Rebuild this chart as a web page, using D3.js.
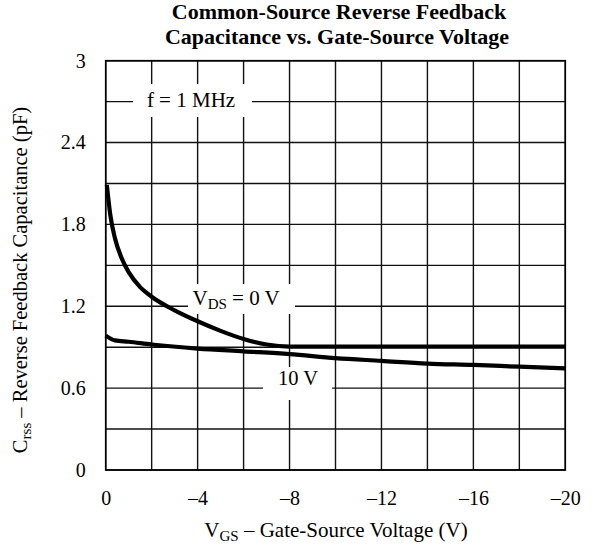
<!DOCTYPE html>
<html>
<head>
<meta charset="utf-8">
<script src="https://cdn.jsdelivr.net/npm/d3@7"></script>
<style>
  body { margin: 0; background: #fff; }
  svg text { font-family: "Liberation Serif", "Times New Roman", serif; fill: #000; }
</style>
</head>
<body>
<script>
// values
var xTicks = [0, -4, -8, -12, -16, -20];
var yTicks = [0, 0.6, 1.2, 1.8, 2.4, 3];
var xGrid = [0, -2, -4, -6, -8, -10, -12, -14, -16, -18, -20];
var yGrid = [0, 0.3, 0.6, 0.9, 1.2, 1.5, 1.8, 2.1, 2.4, 2.7, 3];

// Crss vs VGS, VDS = 0 V
var vgs0 = [-0.05, -0.2, -0.4, -0.7, -1.0, -1.5, -2, -3, -4, -5, -6, -7, -8, -10, -14, -20];
var crss0 = [2.09, 1.87, 1.70, 1.55, 1.45, 1.34, 1.27, 1.17, 1.09, 1.02, 0.96, 0.92, 0.905, 0.905, 0.905, 0.905];
// VDS = 10 V
var vgs10 = [0, -0.4, -1, -2, -4, -6, -8, -10, -12, -14, -16, -18, -20];
var crss10 = [0.985, 0.95, 0.94, 0.92, 0.89, 0.87, 0.85, 0.82, 0.80, 0.78, 0.77, 0.757, 0.745];

var W = 592, H = 550;
var margin = {top: 60.7, left: 105.7, right: 26.7, bottom: 80};
var w = W - margin.left - margin.right;
var h = H - margin.top - margin.bottom;

var svg = d3.select("body").append("svg")
    .attr("width", W)
    .attr("height", H);

var x = d3.scaleLinear().domain([0, -20]).range([0, w]);
var y = d3.scaleLinear().domain([0, 3]).range([h, 0]);

var g = svg.append("g")
    .attr("transform", "translate(" + margin.left + "," + margin.top + ")");

// grid
g.selectAll(".vgrid").data(xGrid).enter().append("line")
    .attr("x1", function(d) { return x(d); })
    .attr("x2", function(d) { return x(d); })
    .attr("y1", 0).attr("y2", h)
    .attr("stroke", "#111").attr("stroke-width", 1.4);
g.selectAll(".hgrid").data(yGrid).enter().append("line")
    .attr("y1", function(d) { return y(d); })
    .attr("y2", function(d) { return y(d); })
    .attr("x1", 0).attr("x2", w)
    .attr("stroke", "#111").attr("stroke-width", 1.4);

// axes (labels only)
var xAxis = d3.axisBottom(x).tickValues(xTicks).tickSize(0).tickPadding(21)
    .tickFormat(function(d) { return d === 0 ? "0" : "\u2013" + Math.abs(d); });
g.append("g").attr("transform", "translate(0," + h + ")").call(xAxis)
    .attr("font-size", 20).attr("font-family", null)
    .call(function(s) { s.select(".domain").remove(); });

var yAxis = d3.axisLeft(y).tickValues(yTicks).tickSize(0).tickPadding(20)
    .tickFormat(function(d) { return d; });
g.append("g").call(yAxis)
    .attr("font-size", 20).attr("font-family", null)
    .call(function(s) { s.select(".domain").remove(); });

// label boxes that cut the grid
function box(x0, y0, x1, y1) {
  svg.append("rect")
    .attr("x", x0).attr("y", y0)
    .attr("width", x1 - x0).attr("height", y1 - y0)
    .attr("fill", "#fff");
}
box(133, 84, 252, 117);
box(188, 284, 295, 314);
box(263, 367, 332, 400);

svg.append("text")
    .attr("x", 191).attr("y", 107)
    .attr("text-anchor", "middle")
    .attr("font-size", 21)
    .text("f = 1 MHz");

var vds = svg.append("text")
    .attr("x", 192.5).attr("y", 305)
    .attr("font-size", 21);
vds.append("tspan").text("V");
vds.append("tspan").attr("font-size", 15).attr("dy", 4).text("DS");
vds.append("tspan").attr("dy", -4).text(" = 0 V");

svg.append("text")
    .attr("x", 298).attr("y", 385)
    .attr("text-anchor", "middle")
    .attr("font-size", 20.5)
    .text("10 V");

// border
g.append("rect")
    .attr("width", w).attr("height", h)
    .attr("fill", "none").attr("stroke", "#000").attr("stroke-width", 1.6);

// curves
var line = d3.line()
    .x(function(d) { return x(d[0]); })
    .y(function(d) { return y(d[1]); })
    .curve(d3.curveMonotoneX);

g.append("path")
    .datum(d3.zip(vgs0, crss0))
    .attr("d", line)
    .attr("fill", "none").attr("stroke", "#000").attr("stroke-width", 4.2);
g.append("path")
    .datum(d3.zip(vgs10, crss10))
    .attr("d", line)
    .attr("fill", "none").attr("stroke", "#000").attr("stroke-width", 4.2);

// title, two lines
svg.append("text")
    .attr("x", 339).attr("y", 19)
    .attr("text-anchor", "middle")
    .attr("font-weight", "bold")
    .attr("font-size", 22)
    .text("Common-Source Reverse Feedback");
svg.append("text")
    .attr("x", 337).attr("y", 44)
    .attr("text-anchor", "middle")
    .attr("font-weight", "bold")
    .attr("font-size", 22)
    .text("Capacitance vs. Gate-Source Voltage");

// x axis title
var xt = svg.append("text")
    .attr("x", 336).attr("y", 537)
    .attr("text-anchor", "middle")
    .attr("font-size", 21);
xt.append("tspan").text("V");
xt.append("tspan").attr("font-size", 15).attr("dy", 4).text("GS");
xt.append("tspan").attr("dy", -4).text(" \u2013 Gate-Source Voltage (V)");

// y axis title
var yt = svg.append("text")
    .attr("transform", "translate(27," + 280 + ") rotate(-90)")
    .attr("text-anchor", "middle")
    .attr("font-size", 20.5);
yt.append("tspan").text("C");
yt.append("tspan").attr("font-size", 15).attr("dy", 4).text("rss");
yt.append("tspan").attr("dy", -4).text("  \u2013 Reverse Feedback Capacitance (pF)");
</script>
</body>
</html>
